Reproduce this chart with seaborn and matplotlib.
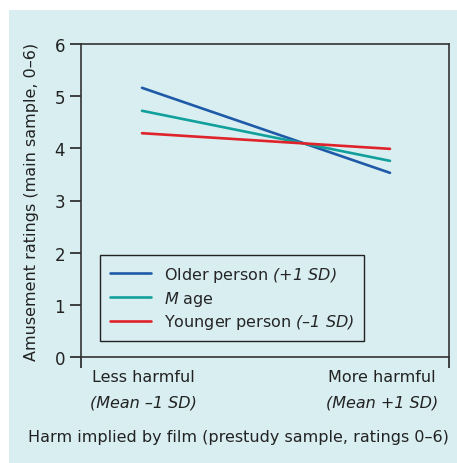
import numpy as np
import pandas as pd
import matplotlib
matplotlib.use("Agg")
import matplotlib.pyplot as plt
import seaborn as sns
from matplotlib.patches import Rectangle

# ─────────────────────────────────────────────
# DATA
# ─────────────────────────────────────────────
harm_levels = [0, 1]                       # Mean -1 SD, Mean +1 SD
groups      = ["Older", "Mage", "Younger"]
older_vals  = [5.16, 3.53]
mage_vals   = [4.72, 3.76]
young_vals  = [4.29, 3.99]
legend_labels = [r"Older person $({+}1\ SD)$",
                 r"$M$ age",
                 r"Younger person $(–1\ SD)$"]
x_top_labels    = ["Less harmful", "More harmful"]
x_bottom_labels = ["(Mean –1 SD)", "(Mean +1 SD)"]
y_ticks = [0, 1, 2, 3, 4, 5, 6]

BG      = "#d8eef1"
COLORS  = ["#1f5aa8", "#12a09c", "#e0232b"]

df = pd.DataFrame({
    "harm":   harm_levels * 3,
    "rating": older_vals + mage_vals + young_vals,
    "group":  np.repeat(groups, 2),
})

sns.set_style("ticks")
plt.rcParams["font.family"] = ["DejaVu Sans"]
# everything inside $...$ is the italic part of a label
plt.rcParams["mathtext.fontset"] = "custom"
plt.rcParams["mathtext.rm"] = "DejaVu Sans:italic"
plt.rcParams["mathtext.it"] = "DejaVu Sans:italic"

fig = plt.figure(figsize=(4.57, 4.64), dpi=100, facecolor="white")
bg_rect = Rectangle((9 / 457, 0), 1, 1 - 11 / 464,
                    transform=fig.transFigure, facecolor=BG,
                    edgecolor="none", zorder=-10)
fig.add_artist(bg_rect)
ax = fig.add_axes([81 / 457, 1 - 358 / 464, 368 / 457, 313 / 464])
ax.set_facecolor(BG)

sns.lineplot(data=df, x="harm", y="rating", hue="group", hue_order=groups,
             palette=COLORS, linewidth=1.9, ax=ax, legend=False)

ax.set_ylim(0, 6)
ax.set_xlim(-0.246, 1.238)
ax.set_yticks(y_ticks)
ax.set_yticklabels([str(t) for t in y_ticks], fontsize=12, color="#222222")
ax.set_xticks([-0.246, 1.238])
ax.set_xticklabels(["", ""])
ax.tick_params(axis="both", direction="out", length=8, width=1.2,
               color="#222222")
for s in ax.spines.values():
    s.set_color("#333333")
    s.set_linewidth(1.2)

ax.set_xlabel("")
ax.set_ylabel("Amusement ratings (main sample, 0–6)", fontsize=11.5,
              color="#222222", labelpad=11)

# category labels under the axis
for xpos, top, bottom in zip([0.004, 0.968], x_top_labels, x_bottom_labels):
    ax.text(xpos, -0.061, top, transform=ax.get_xaxis_transform(),
            ha="center", va="center", fontsize=11.5, color="#222222")
    ax.text(xpos, -0.144, bottom, transform=ax.get_xaxis_transform(),
            ha="center", va="center", fontsize=11.5, color="#222222",
            style="italic")

fig.text(238 / 457, 1 - 438 / 464,
         "Harm implied by film (prestudy sample, ratings 0–6)",
         ha="center", va="center", fontsize=11.5, color="#222222")

handles = ax.get_lines()[:3]
leg = ax.legend(handles, legend_labels, loc="lower left",
                bbox_to_anchor=(0.052, 0.051), borderaxespad=0,
                fontsize=11.5, frameon=True, fancybox=False,
                handlelength=2.6, handletextpad=0.8, labelspacing=0.3,
                borderpad=0.6)
leg.get_frame().set_edgecolor("#222222")
leg.get_frame().set_facecolor(BG)
leg.get_frame().set_linewidth(1.0)
leg.get_frame().set_alpha(1)

fig.savefig("out.png", dpi=100, facecolor="white")
